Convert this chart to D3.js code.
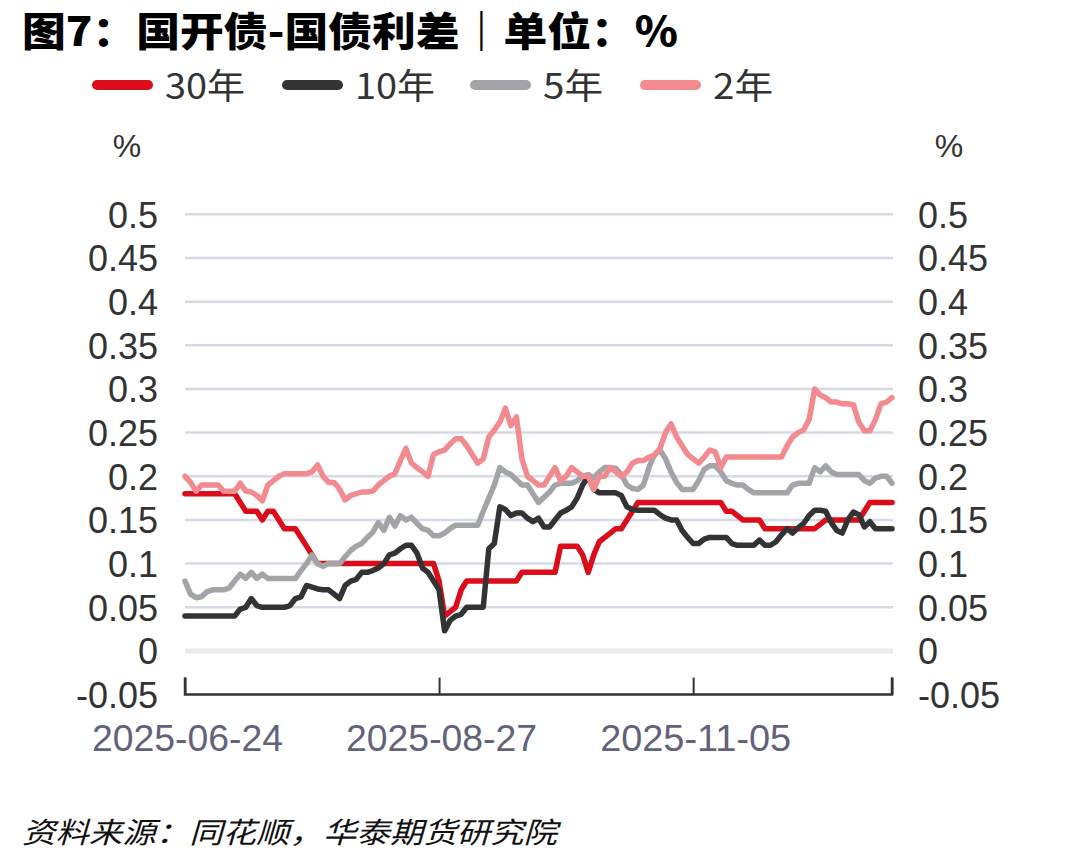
<!DOCTYPE html>
<html>
<head>
<meta charset="utf-8">
<script src="https://cdn.jsdelivr.net/npm/d3@7"></script>
<style>
  html, body { margin: 0; padding: 0; background: #ffffff; }
  svg { display: block; }
</style>
</head>
<body>
<svg id="chart" width="1078" height="866"></svg>
<script>
// ---------------- data ----------------
const title = "图7：国开债-国债利差｜单位：%";
const source = "资料来源：同花顺，华泰期货研究院";
const seriesNames = ["30年", "10年", "5年", "2年"];
const seriesColors = ["#dc0d1a", "#333333", "#a2a4a7", "#f28a8f"];
const xTickIndex = [0, 46, 92];
const xTickLabels = ["2025-06-24", "2025-08-27", "2025-11-05"];
const yTicks = [-0.05, 0, 0.05, 0.1, 0.15, 0.2, 0.25, 0.3, 0.35, 0.4, 0.45, 0.5];

const y30 = [0.18,0.18,0.18,0.18,0.18,0.18,0.18,0.18,0.18,0.18,
  0.17,0.16,0.16,0.16,0.15,0.16,0.16,0.15,0.14,0.14,
  0.14,0.13,0.12,0.11,0.10,0.10,0.10,0.10,0.10,0.10,
  0.10,0.10,0.10,0.10,0.10,0.10,0.10,0.10,0.10,0.10,
  0.10,0.10,0.10,0.10,0.10,0.10,0.08,0.04,0.045,0.05,
  0.07,0.08,0.08,0.08,0.08,0.08,0.08,0.08,0.08,0.08,
  0.08,0.09,0.09,0.09,0.09,0.09,0.09,0.09,0.12,0.12,
  0.12,0.12,0.11,0.09,0.11,0.125,0.13,0.135,0.14,0.14,
  0.15,0.16,0.17,0.17,0.17,0.17,0.17,0.17,0.17,0.17,
  0.17,0.17,0.17,0.17,0.17,0.17,0.17,0.17,0.16,0.16,
  0.155,0.15,0.15,0.15,0.15,0.14,0.14,0.14,0.14,0.14,
  0.14,0.14,0.14,0.14,0.14,0.145,0.15,0.15,0.15,0.15,
  0.15,0.15,0.15,0.16,0.17,0.17,0.17,0.17,0.17];

const y10 = [0.04,0.04,0.04,0.04,0.04,0.04,0.04,0.04,0.04,0.04,
  0.048,0.05,0.06,0.052,0.05,0.05,0.05,0.05,0.05,0.052,
  0.06,0.062,0.075,0.073,0.071,0.07,0.07,0.065,0.06,0.075,
  0.08,0.082,0.09,0.09,0.092,0.095,0.10,0.11,0.112,0.117,
  0.121,0.121,0.112,0.095,0.09,0.08,0.07,0.023,0.035,0.04,
  0.042,0.05,0.05,0.05,0.05,0.117,0.123,0.165,0.162,0.155,
  0.158,0.158,0.152,0.148,0.152,0.142,0.142,0.15,0.158,0.161,
  0.165,0.175,0.19,0.20,0.185,0.181,0.181,0.181,0.181,0.178,
  0.165,0.162,0.161,0.161,0.161,0.161,0.156,0.152,0.15,0.15,
  0.138,0.13,0.123,0.123,0.128,0.13,0.13,0.13,0.13,0.123,
  0.121,0.121,0.121,0.121,0.127,0.121,0.121,0.125,0.133,0.14,
  0.135,0.141,0.146,0.155,0.161,0.161,0.16,0.147,0.138,0.135,
  0.15,0.159,0.156,0.142,0.148,0.14,0.14,0.14,0.14];

const y5 = [0.08,0.065,0.061,0.062,0.068,0.07,0.07,0.07,0.072,0.08,
  0.088,0.083,0.09,0.083,0.088,0.083,0.083,0.083,0.083,0.083,
  0.083,0.092,0.10,0.11,0.10,0.097,0.10,0.10,0.10,0.108,
  0.115,0.12,0.123,0.13,0.136,0.147,0.138,0.153,0.143,0.155,
  0.15,0.153,0.146,0.14,0.138,0.132,0.132,0.135,0.14,0.144,
  0.144,0.144,0.144,0.144,0.16,0.175,0.19,0.21,0.205,0.202,
  0.196,0.19,0.19,0.18,0.17,0.176,0.182,0.19,0.192,0.192,
  0.192,0.195,0.20,0.202,0.198,0.205,0.21,0.21,0.209,0.202,
  0.19,0.186,0.185,0.19,0.21,0.225,0.23,0.22,0.205,0.193,
  0.185,0.185,0.185,0.195,0.208,0.212,0.212,0.205,0.195,0.192,
  0.19,0.19,0.185,0.181,0.181,0.181,0.181,0.181,0.181,0.181,
  0.19,0.192,0.192,0.192,0.21,0.205,0.212,0.205,0.202,0.202,
  0.202,0.202,0.202,0.195,0.192,0.198,0.20,0.20,0.192];

const y2 = [0.20,0.193,0.183,0.19,0.19,0.19,0.19,0.183,0.183,0.183,
  0.192,0.183,0.182,0.178,0.172,0.19,0.195,0.20,0.203,0.203,
  0.203,0.203,0.203,0.205,0.213,0.20,0.193,0.193,0.185,0.173,
  0.178,0.18,0.182,0.182,0.183,0.19,0.195,0.20,0.203,0.218,
  0.232,0.215,0.21,0.205,0.20,0.225,0.228,0.23,0.237,0.243,
  0.243,0.235,0.225,0.215,0.22,0.245,0.253,0.262,0.278,0.258,
  0.268,0.22,0.20,0.195,0.19,0.19,0.20,0.21,0.195,0.20,
  0.21,0.205,0.20,0.20,0.185,0.20,0.20,0.21,0.205,0.20,
  0.205,0.215,0.218,0.218,0.222,0.224,0.232,0.25,0.26,0.245,
  0.235,0.225,0.22,0.215,0.222,0.23,0.228,0.21,0.222,0.222,
  0.222,0.222,0.222,0.222,0.222,0.222,0.222,0.222,0.222,0.235,
  0.245,0.25,0.253,0.265,0.30,0.293,0.29,0.285,0.285,0.283,
  0.283,0.282,0.262,0.252,0.252,0.265,0.283,0.285,0.29];

const allSeries = [y30, y10, y5, y2];

// ---------------- layout ----------------
const svg = d3.select("#chart");
const plotLeft = 185, plotRight = 892, plotTop = 214.3, plotBottom = 694.6;
const nPts = y30.length;

const xScale = d3.scaleLinear().domain([0, nPts - 1]).range([plotLeft, plotRight]);
const yScale = d3.scaleLinear().domain([-0.05, 0.5]).range([plotBottom, plotTop]);

const numFont = "'Liberation Sans', Arial, Helvetica, sans-serif";
const cjkFont = "'Noto Sans CJK SC', 'Liberation Sans', sans-serif";

// title
svg.append("text")
  .attr("x", 22).attr("y", 46)
  .attr("font-family", cjkFont)
  .attr("font-weight", 900)
  .attr("font-size", 40)
  .attr("fill", "#000")
  .attr("textLength", 656)
  .attr("lengthAdjust", "spacingAndGlyphs")
  .text(title);

// legend
const legendX = [92, 282, 470, 640];
const legendTextW = [80, 80, 60, 60];
const legend = svg.append("g");
seriesNames.forEach((name, i) => {
  legend.append("line")
    .attr("x1", legendX[i] + 5).attr("x2", legendX[i] + 56)
    .attr("y1", 85).attr("y2", 85)
    .attr("stroke", seriesColors[i])
    .attr("stroke-width", 10)
    .attr("stroke-linecap", "round");
  legend.append("text")
    .attr("x", legendX[i] + 73).attr("y", 99)
    .attr("font-family", cjkFont)
    .attr("font-size", 35)
    .attr("fill", "#333")
    .attr("textLength", legendTextW[i])
    .attr("lengthAdjust", "spacingAndGlyphs")
    .text(name);
});

// unit labels
svg.append("text").attr("x", 127).attr("y", 157)
  .attr("text-anchor", "middle").attr("font-family", numFont)
  .attr("font-size", 32).attr("fill", "#333").text("%");
svg.append("text").attr("x", 949).attr("y", 157)
  .attr("text-anchor", "middle").attr("font-family", numFont)
  .attr("font-size", 32).attr("fill", "#333").text("%");

// gridlines
const grid = svg.append("g");
yTicks.filter(t => t > 0).forEach(t => {
  grid.append("line")
    .attr("x1", plotLeft).attr("x2", plotRight + 1)
    .attr("y1", yScale(t)).attr("y2", yScale(t))
    .attr("stroke", "#d6d9e6").attr("stroke-width", 2.5);
});
grid.append("line")
  .attr("x1", plotLeft).attr("x2", plotRight + 1)
  .attr("y1", yScale(0)).attr("y2", yScale(0))
  .attr("stroke", "#ebebeb").attr("stroke-width", 5);

// y axis labels (left and right)
const fmt = d => String(+d.toFixed(2));
const yLeftG = svg.append("g")
  .attr("transform", `translate(${plotLeft - 27},0)`)
  .call(d3.axisLeft(yScale).tickValues(yTicks).tickSize(0).tickPadding(0).tickFormat(fmt));
const yRightG = svg.append("g")
  .attr("transform", `translate(${plotRight + 26},0)`)
  .call(d3.axisRight(yScale).tickValues(yTicks).tickSize(0).tickPadding(0).tickFormat(fmt));
[yLeftG, yRightG].forEach(g => {
  g.select(".domain").remove();
  g.selectAll("text")
    .attr("font-family", numFont)
    .attr("font-size", 36)
    .attr("fill", "#333")
    .attr("dy", "0.36em");
});

// series lines
const lineGen = d3.line().x((d, i) => xScale(i)).y(d => yScale(d)).curve(d3.curveLinear);
allSeries.forEach((s, i) => {
  svg.append("path")
    .datum(s)
    .attr("fill", "none")
    .attr("stroke", seriesColors[i])
    .attr("stroke-width", 5.5)
    .attr("stroke-linejoin", "round")
    .attr("stroke-linecap", "round")
    .attr("d", lineGen);
});

// x axis
const xAxisG = svg.append("g").attr("transform", `translate(0,${plotBottom})`);
xAxisG.call(d3.axisTop(xScale).tickValues([...xTickIndex, nPts - 1]).tickSize(17).tickFormat(""));
xAxisG.select(".domain")
  .attr("d", `M${plotLeft},${-17}V0H${plotRight}V${-17}`)
  .attr("stroke", "#333").attr("stroke-width", 2.5).attr("fill", "none");
xAxisG.selectAll(".tick line").attr("stroke", "#333").attr("stroke-width", 2);

svg.append("g").selectAll("text")
  .data(xTickIndex)
  .join("text")
  .attr("x", d => xScale(d) - 93)
  .attr("y", 751)
  .attr("font-family", numFont)
  .attr("font-size", 36)
  .attr("fill", "#62627a")
  .attr("textLength", 191)
  .attr("lengthAdjust", "spacingAndGlyphs")
  .text((d, i) => xTickLabels[i]);

// source
svg.append("text")
  .attr("x", 22).attr("y", 843)
  .attr("font-family", cjkFont)
  .attr("font-style", "italic")
  .attr("font-size", 29)
  .attr("fill", "#111")
  .attr("textLength", 535)
  .attr("lengthAdjust", "spacingAndGlyphs")
  .text(source);
</script>
</body>
</html>
